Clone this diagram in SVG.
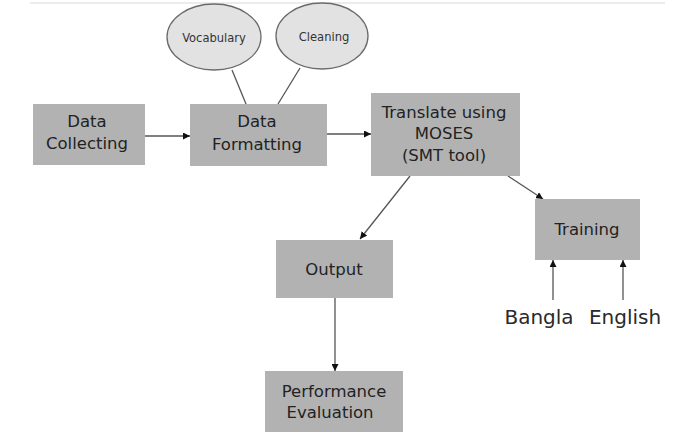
<svg xmlns="http://www.w3.org/2000/svg" width="678" height="432" viewBox="0 0 678 432">
  <style>
    .box { fill: #b2b2b2; }
    .bubble { fill: #e2e2e2; stroke: #6a6a6a; stroke-width: 1.3; }
    .t { font-family: "DejaVu Sans", Verdana, sans-serif; font-size: 16.5px; fill: #222; text-anchor: middle; }
    .small { font-family: "DejaVu Sans Condensed", "DejaVu Sans", sans-serif; font-size: 12.8px; fill: #333; text-anchor: middle; }
    .lang { font-family: "DejaVu Sans", Verdana, sans-serif; font-size: 20px; fill: #2a2a2a; text-anchor: middle; }
    .edge { stroke: #555; stroke-width: 1.3; fill: none; }
    .arr { marker-end: url(#head); }
  </style>
  <defs>
    <marker id="head" viewBox="0 0 10 10" refX="10" refY="5" markerWidth="7" markerHeight="7" markerUnits="userSpaceOnUse" orient="auto">
      <path d="M0,0 L10,5 L0,10 z" fill="#111"/>
    </marker>
  </defs>
  <rect width="678" height="432" fill="#fff"/>
  <line x1="30" y1="3" x2="665" y2="3" stroke="#ececec" stroke-width="2"/>

  <g id="connectors">
    <line class="edge" x1="232" y1="70" x2="246" y2="104"/>
    <line class="edge" x1="300" y1="68" x2="278" y2="104"/>
    <line class="edge arr" x1="145" y1="136" x2="190" y2="136"/>
    <line class="edge arr" x1="327" y1="134" x2="371" y2="134"/>
    <line class="edge arr" x1="410" y1="176" x2="360" y2="239"/>
    <line class="edge arr" x1="508" y1="176" x2="543" y2="199"/>
    <line class="edge arr" x1="335" y1="298" x2="335" y2="371"/>
    <line class="edge arr" x1="553" y1="300" x2="553" y2="260"/>
    <line class="edge arr" x1="623" y1="300" x2="623" y2="260"/>
  </g>

  <g id="vocabulary">
    <ellipse class="bubble" cx="214" cy="37" rx="47" ry="33"/>
    <text class="small" x="214" y="42">Vocabulary</text>
  </g>
  <g id="cleaning">
    <ellipse class="bubble" cx="322" cy="36" rx="46" ry="33"/>
    <text class="small" x="324" y="41">Cleaning</text>
  </g>

  <g id="data-collecting">
    <rect class="box" x="33" y="104" width="112" height="61"/>
    <text class="t" x="87" y="127">Data</text>
    <text class="t" x="87" y="149">Collecting</text>
  </g>
  <g id="data-formatting">
    <rect class="box" x="190" y="104" width="137" height="62"/>
    <text class="t" x="257" y="127">Data</text>
    <text class="t" x="257" y="150">Formatting</text>
  </g>
  <g id="translate">
    <rect class="box" x="371" y="93" width="149" height="83"/>
    <text class="t" x="444" y="118">Translate using</text>
    <text class="t" x="444" y="139">MOSES</text>
    <text class="t" x="444" y="161">(SMT tool)</text>
  </g>
  <g id="training">
    <rect class="box" x="535" y="199" width="105" height="61"/>
    <text class="t" x="587" y="235">Training</text>
  </g>
  <g id="output">
    <rect class="box" x="276" y="240" width="117" height="58"/>
    <text class="t" x="334" y="275">Output</text>
  </g>
  <g id="performance-evaluation">
    <rect class="box" x="265" y="371" width="138" height="61"/>
    <text class="t" x="334" y="397">Performance</text>
    <text class="t" x="330" y="418">Evaluation</text>
  </g>

  <g id="bangla">
    <text class="lang" x="539" y="324">Bangla</text>
  </g>
  <g id="english">
    <text class="lang" x="625" y="324">English</text>
  </g>
</svg>
